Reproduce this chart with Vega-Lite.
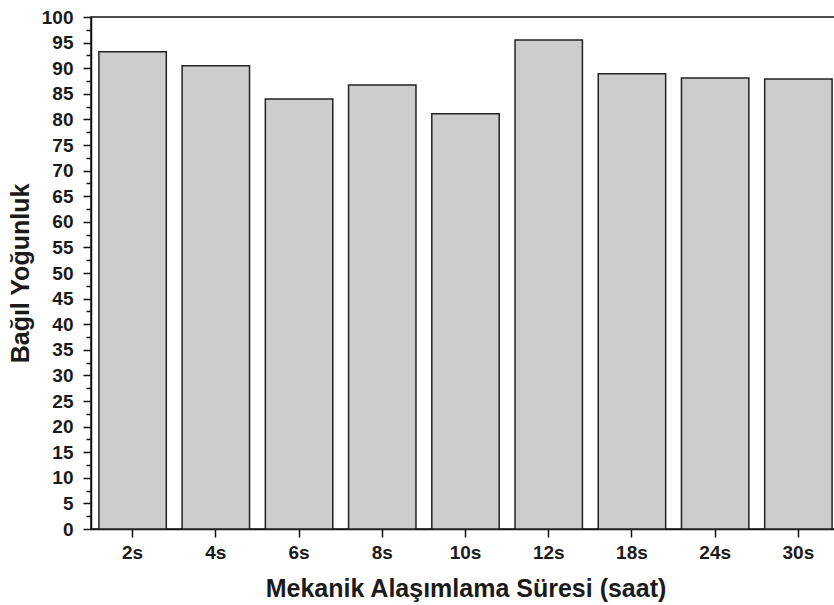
{
  "$schema": "https://vega.github.io/schema/vega-lite/v6.json",
  "autosize": {"type": "none"},
  "width": 749,
  "height": 512,
  "padding": {"left": 91, "top": 17, "right": 0, "bottom": 76},
  "background": "white",
  "config": {
    "view": {"stroke": "#111", "strokeWidth": 1.5},
    "font": "Liberation Sans",
    "axis": {
      "domainColor": "#111",
      "domainWidth": 1.5,
      "tickColor": "#111",
      "tickWidth": 1.5,
      "labelFont": "Liberation Sans",
      "labelFontWeight": "bold",
      "labelFontSize": 19,
      "labelColor": "#1a1a1a",
      "titleFont": "Liberation Sans",
      "titleFontWeight": "bold",
      "titleFontSize": 25,
      "titleColor": "#1a1a1a",
      "grid": false
    }
  },
  "data": {
    "values": [
      {"sure": "2s", "yogunluk": 93.2},
      {"sure": "4s", "yogunluk": 90.5},
      {"sure": "6s", "yogunluk": 84.0},
      {"sure": "8s", "yogunluk": 86.7},
      {"sure": "10s", "yogunluk": 81.1},
      {"sure": "12s", "yogunluk": 95.5},
      {"sure": "18s", "yogunluk": 88.9},
      {"sure": "24s", "yogunluk": 88.1},
      {"sure": "30s", "yogunluk": 87.9}
    ]
  },
  "mark": {"type": "bar", "fill": "#cdcdcd", "stroke": "#222", "strokeWidth": 1.5},
  "encoding": {
    "x": {
      "field": "sure",
      "type": "nominal",
      "sort": null,
      "scale": {"paddingInner": 0.19, "paddingOuter": 0.095},
      "axis": {
        "title": "Mekanik Alaşımlama Süresi (saat)",
        "labelAngle": 0,
        "tickSize": 8,
        "labelPadding": 6,
        "titlePadding": 14
      }
    },
    "y": {
      "field": "yogunluk",
      "type": "quantitative",
      "scale": {"domain": [0, 100], "nice": false},
      "axis": {
        "title": "Bağıl Yoğunluk",
        "values": [0,2.5,5,7.5,10,12.5,15,17.5,20,22.5,25,27.5,30,32.5,35,37.5,40,42.5,45,47.5,50,52.5,55,57.5,60,62.5,65,67.5,70,72.5,75,77.5,80,82.5,85,87.5,90,92.5,95,97.5,100],
        "labelExpr": "datum.value % 5 === 0 ? datum.label : ''",
        "tickSize": {"condition": {"test": "datum.value % 5 === 0", "value": 8}, "value": 5},
        "labelPadding": 10,
        "titlePadding": 8
      }
    }
  }
}
